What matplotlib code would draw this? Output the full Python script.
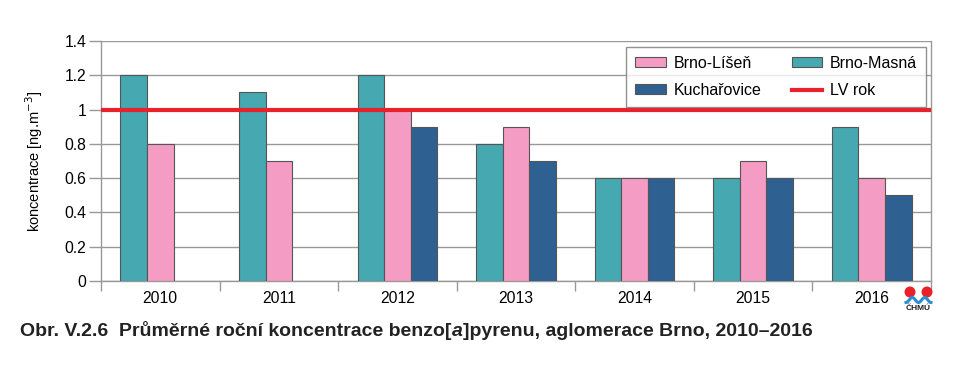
import matplotlib
matplotlib.use("Agg")
import matplotlib.pyplot as plt
import numpy as np
from matplotlib.patches import Ellipse, Patch
from matplotlib.lines import Line2D

plt.rcParams["font.family"] = ["Liberation Sans", "DejaVu Sans"]

YEARS = ["2010", "2011", "2012", "2013", "2014", "2015", "2016"]
MASNA = [1.2, 1.1, 1.2, 0.8, 0.6, 0.6, 0.9]
LISEN = [0.8, 0.7, 1.0, 0.9, 0.6, 0.7, 0.6]
KUCHAR = [np.nan, np.nan, 0.9, 0.7, 0.6, 0.6, 0.5]
LV_ROK = 1.0

C_MASNA = "#46a8b0"
C_LISEN = "#f49cc3"
C_KUCHAR = "#2e6191"
C_LV = "#e8212b"
GRID = "#999999"
EDGE = "#555555"

fig = plt.figure(figsize=(9.75, 3.78), dpi=100)
ax = fig.add_axes([0.1036, 0.2566, 0.8513, 0.6349])

x = np.arange(len(YEARS))
w = 0.224
ax.bar(x - w, MASNA, w, color=C_MASNA, edgecolor=EDGE, linewidth=0.8, zorder=3)
ax.bar(x, LISEN, w, color=C_LISEN, edgecolor=EDGE, linewidth=0.8, zorder=3)
ax.bar(x + w, KUCHAR, w, color=C_KUCHAR, edgecolor=EDGE, linewidth=0.8, zorder=3)
ax.axhline(LV_ROK, color=C_LV, linewidth=3, zorder=4)

ax.set_xlim(-0.5, len(YEARS) - 0.5)
ax.set_ylim(0, 1.4)
ax.set_yticks(np.arange(0, 1.41, 0.2))
ax.set_yticklabels(["0", "0.2", "0.4", "0.6", "0.8", "1", "1.2", "1.4"])
ax.set_xticks(x)
ax.set_xticklabels(YEARS)
ax.set_xticks(np.arange(-0.5, len(YEARS), 1), minor=True)
ax.tick_params(axis="x", which="major", length=0, labelsize=11.3, pad=7)
ax.tick_params(axis="x", which="minor", length=7, color=GRID, width=1)
ax.tick_params(axis="y", length=8.5, color=GRID, width=1, labelsize=11.3, pad=2)
ax.yaxis.grid(True, color=GRID, linewidth=1, zorder=0)
ax.set_axisbelow(True)
ax.spines["top"].set_visible(False)
for s in ["left", "right", "bottom"]:
    ax.spines[s].set_color(GRID)
    ax.spines[s].set_linewidth(1)

ax.set_ylabel("koncentrace [ng.m$^{-3}$]", fontsize=10.5, labelpad=14)

handles = [
    Patch(facecolor=C_LISEN, edgecolor=EDGE, linewidth=0.8, label="Brno-Líšeň"),
    Patch(facecolor=C_KUCHAR, edgecolor=EDGE, linewidth=0.8, label="Kuchařovice"),
    Patch(facecolor=C_MASNA, edgecolor=EDGE, linewidth=0.8, label="Brno-Masná"),
    Line2D([0], [0], color=C_LV, linewidth=3, label="LV rok"),
]
leg = ax.legend(handles=handles, ncol=2, loc="upper right", bbox_to_anchor=(0.994, 0.975),
                fontsize=11.5, frameon=True, fancybox=False, edgecolor="#777777",
                handlelength=1.9, handleheight=0.55, columnspacing=1.9,
                labelspacing=0.75, borderpad=0.55, handletextpad=0.5, borderaxespad=0)
leg.get_frame().set_linewidth(1)
leg.set_zorder(5)

# title with italic "a"
t1 = fig.text(0.021, 0.11, "Obr. V.2.6  Průměrné roční koncentrace benzo[",
              fontsize=14, fontweight="bold", va="baseline", color="#222222")
t2 = ax.annotate("a", xy=(1, 0), xycoords=t1, fontsize=14, fontweight="bold",
                 fontstyle="italic", va="bottom", color="#222222", annotation_clip=False)
ax.annotate("]pyrenu, aglomerace Brno, 2010–2016", xy=(1, 0), xycoords=t2,
            fontsize=14, fontweight="bold", va="bottom", color="#222222",
            annotation_clip=False)

# CHMU logo
for cx in (910, 927):
    fig.patches.append(Ellipse((cx / 975, 1 - 292 / 378), 11 / 975, 11 / 378,
                               transform=fig.transFigure,
                               facecolor="#e8212b", edgecolor="none"))
wx = np.linspace(906, 931, 40)
wy = 300 + 2.5 * np.cos((wx - 906) / 25 * 4 * np.pi)
fig.add_artist(Line2D(wx / 975, 1 - wy / 378, color="#2a8fd0", linewidth=2.2,
                      transform=fig.transFigure))
fig.text(918.5 / 975, 1 - 309 / 378, "ČHMÚ", fontsize=6, fontweight="bold",
         ha="center", va="center", color="#222222")

fig.savefig("out.png", dpi=100)
